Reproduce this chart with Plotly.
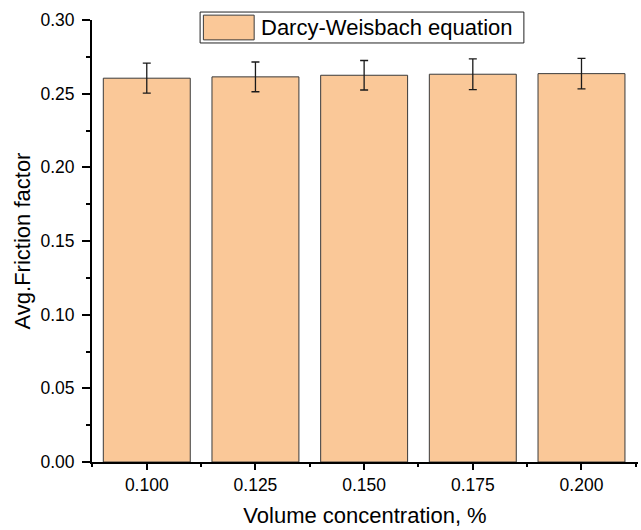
import plotly.graph_objects as go

# Average friction factor vs. nanofluid volume concentration
concentration = [0.100, 0.125, 0.150, 0.175, 0.200]
friction_factor = [0.2605, 0.2614, 0.2625, 0.2632, 0.2636]
friction_error = [0.0102, 0.0101, 0.0100, 0.0104, 0.0104]
tick_labels = ["0.100", "0.125", "0.150", "0.175", "0.200"]
series_name = "Darcy-Weisbach equation"

BAR_FILL = "#FAC898"
BAR_EDGE = "#3a3a3a"
FONT = "Liberation Sans, Arial, sans-serif"

fig = go.Figure()
fig.add_trace(go.Bar(
    x=concentration,
    y=friction_factor,
    width=0.02,
    name=series_name,
    marker=dict(color=BAR_FILL, line=dict(color=BAR_EDGE, width=1)),
    error_y=dict(type="data", array=friction_error, visible=True,
                 color="#1a1a1a", thickness=1.3, width=4),
    showlegend=False,
))

# Legend box drawn in paper space (large swatch + label)
fig.add_shape(type="rect", xref="paper", yref="paper",
              x0=0.198, x1=0.791, y0=0.948, y1=1.018,
              line=dict(color="#222222", width=1), fillcolor="white", layer="above")
fig.add_shape(type="rect", xref="paper", yref="paper",
              x0=0.204, x1=0.297, y0=0.955, y1=1.011,
              line=dict(color=BAR_EDGE, width=1), fillcolor=BAR_FILL, layer="above")
fig.add_annotation(xref="paper", yref="paper", x=0.305, y=0.983,
                   xanchor="left", yanchor="middle", showarrow=False,
                   text=series_name, font=dict(family=FONT, size=22, color="black"))

fig.update_layout(
    width=641, height=530,
    margin=dict(l=92, r=3, t=20, b=68),
    paper_bgcolor="white", plot_bgcolor="white",
    font=dict(family=FONT, color="black"),
    bargap=0.2,
)
fig.update_xaxes(
    range=[0.0874, 0.2130],
    tickmode="array", tickvals=concentration, ticktext=tick_labels,
    ticks="outside", ticklen=6, tickwidth=1.5, tickcolor="black",
    showline=True, linecolor="black", linewidth=2, showgrid=False, zeroline=False,
    tickfont=dict(family=FONT, size=17.5, color="black"),
    minor=dict(tickmode="linear", tick0=0.0875, dtick=0.0125, ticks="outside",
               ticklen=3, tickwidth=1.5, tickcolor="black", showgrid=False),
    title=dict(text="Volume concentration, %", font=dict(family=FONT, size=22, color="black"),
               standoff=14),
)
fig.update_yaxes(
    range=[0, 0.30],
    tickmode="linear", tick0=0, dtick=0.05, tickformat=".2f",
    ticks="outside", ticklen=8, tickwidth=1.5, tickcolor="black",
    showline=True, linecolor="black", linewidth=2, showgrid=False, zeroline=False,
    tickfont=dict(family=FONT, size=17.5, color="black"),
    ticklabelstandoff=4,
    minor=dict(tickmode="linear", tick0=0.025, dtick=0.05, ticks="outside",
               ticklen=4, tickwidth=1.5, tickcolor="black", showgrid=False),
    title=dict(text="Avg.Friction factor", font=dict(family=FONT, size=22, color="black"),
               standoff=4),
)

fig.write_html("out.html")
